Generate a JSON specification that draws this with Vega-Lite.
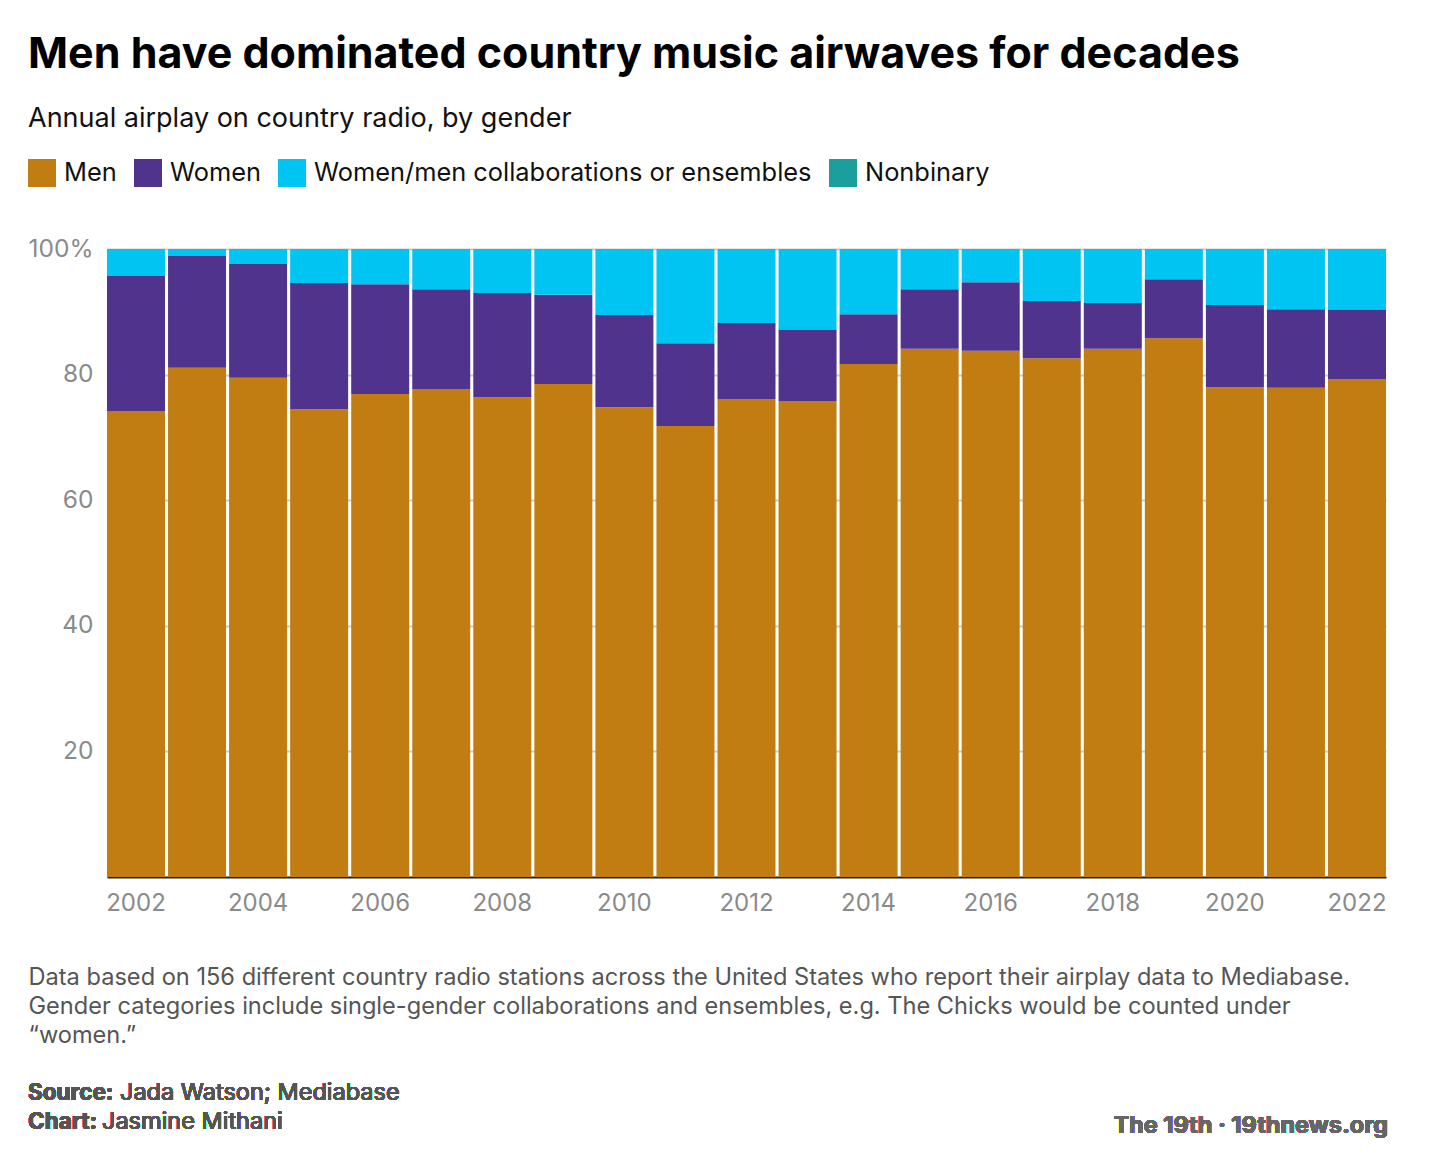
{
  "$schema": "https://vega.github.io/schema/vega-lite/v6.json",
  "width": 1279,
  "height": 628,
  "autosize": {"type": "none"},
  "padding": {"left": 107, "top": 249, "right": 54, "bottom": 291},
  "background": "white",
  "config": {
    "font": "Inter",
    "view": {"stroke": null}
  },
  "title": {
    "text": "Men have dominated country music airwaves for decades",
    "subtitle": "Annual airplay on country radio, by gender",
    "anchor": "start",
    "frame": "group",
    "dx": -79,
    "offset": 27,
    "baseline": "top",
    "fontSize": 43,
    "fontWeight": "bold",
    "color": "#000000",
    "subtitleFontSize": 27,
    "subtitleColor": "#111111",
    "subtitlePadding": 29,
    "font": "Inter",
    "subtitleFont": "Inter"
  },
  "data": {
    "values": [
      {"year": 2002, "gender": "Men", "share": 74.2},
      {"year": 2002, "gender": "Women", "share": 21.5},
      {"year": 2002, "gender": "Women/men collaborations or ensembles", "share": 4.3},
      {"year": 2003, "gender": "Men", "share": 81.1},
      {"year": 2003, "gender": "Women", "share": 17.8},
      {"year": 2003, "gender": "Women/men collaborations or ensembles", "share": 1.1},
      {"year": 2004, "gender": "Men", "share": 79.5},
      {"year": 2004, "gender": "Women", "share": 18.1},
      {"year": 2004, "gender": "Women/men collaborations or ensembles", "share": 2.4},
      {"year": 2005, "gender": "Men", "share": 74.5},
      {"year": 2005, "gender": "Women", "share": 20.1},
      {"year": 2005, "gender": "Women/men collaborations or ensembles", "share": 5.4},
      {"year": 2006, "gender": "Men", "share": 76.9},
      {"year": 2006, "gender": "Women", "share": 17.5},
      {"year": 2006, "gender": "Women/men collaborations or ensembles", "share": 5.6},
      {"year": 2007, "gender": "Men", "share": 77.7},
      {"year": 2007, "gender": "Women", "share": 15.9},
      {"year": 2007, "gender": "Women/men collaborations or ensembles", "share": 6.4},
      {"year": 2008, "gender": "Men", "share": 76.4},
      {"year": 2008, "gender": "Women", "share": 16.6},
      {"year": 2008, "gender": "Women/men collaborations or ensembles", "share": 7.0},
      {"year": 2009, "gender": "Men", "share": 78.5},
      {"year": 2009, "gender": "Women", "share": 14.2},
      {"year": 2009, "gender": "Women/men collaborations or ensembles", "share": 7.3},
      {"year": 2010, "gender": "Men", "share": 74.8},
      {"year": 2010, "gender": "Women", "share": 14.7},
      {"year": 2010, "gender": "Women/men collaborations or ensembles", "share": 10.5},
      {"year": 2011, "gender": "Men", "share": 71.8},
      {"year": 2011, "gender": "Women", "share": 13.2},
      {"year": 2011, "gender": "Women/men collaborations or ensembles", "share": 15.0},
      {"year": 2012, "gender": "Men", "share": 76.1},
      {"year": 2012, "gender": "Women", "share": 12.1},
      {"year": 2012, "gender": "Women/men collaborations or ensembles", "share": 11.8},
      {"year": 2013, "gender": "Men", "share": 75.8},
      {"year": 2013, "gender": "Women", "share": 11.3},
      {"year": 2013, "gender": "Women/men collaborations or ensembles", "share": 12.9},
      {"year": 2014, "gender": "Men", "share": 81.7},
      {"year": 2014, "gender": "Women", "share": 7.9},
      {"year": 2014, "gender": "Women/men collaborations or ensembles", "share": 10.4},
      {"year": 2015, "gender": "Men", "share": 84.1},
      {"year": 2015, "gender": "Women", "share": 9.5},
      {"year": 2015, "gender": "Women/men collaborations or ensembles", "share": 6.4},
      {"year": 2016, "gender": "Men", "share": 83.8},
      {"year": 2016, "gender": "Women", "share": 10.9},
      {"year": 2016, "gender": "Women/men collaborations or ensembles", "share": 5.3},
      {"year": 2017, "gender": "Men", "share": 82.6},
      {"year": 2017, "gender": "Women", "share": 9.1},
      {"year": 2017, "gender": "Women/men collaborations or ensembles", "share": 8.3},
      {"year": 2018, "gender": "Men", "share": 84.1},
      {"year": 2018, "gender": "Women", "share": 7.3},
      {"year": 2018, "gender": "Women/men collaborations or ensembles", "share": 8.6},
      {"year": 2019, "gender": "Men", "share": 85.8},
      {"year": 2019, "gender": "Women", "share": 9.4},
      {"year": 2019, "gender": "Women/men collaborations or ensembles", "share": 4.8},
      {"year": 2020, "gender": "Men", "share": 78.0},
      {"year": 2020, "gender": "Women", "share": 13.1},
      {"year": 2020, "gender": "Women/men collaborations or ensembles", "share": 8.9},
      {"year": 2021, "gender": "Men", "share": 77.9},
      {"year": 2021, "gender": "Women", "share": 12.5},
      {"year": 2021, "gender": "Women/men collaborations or ensembles", "share": 9.6},
      {"year": 2022, "gender": "Men", "share": 79.3},
      {"year": 2022, "gender": "Women", "share": 11.0},
      {"year": 2022, "gender": "Women/men collaborations or ensembles", "share": 9.7}
    ]
  },
  "layer": [
    {
      "mark": {"type": "bar", "stroke": null},
      "encoding": {
        "x": {
          "field": "year",
          "type": "ordinal",
          "scale": {"paddingInner": 0.05, "paddingOuter": 0},
          "axis": {
            "values": [2002, 2004, 2006, 2008, 2010, 2012, 2014, 2016, 2018, 2020, 2022],
            "labelAngle": 0,
            "labelFontSize": 24,
            "labelColor": "#8a8a8a",
            "labelPadding": 14,
            "labelFont": "Inter",
            "ticks": false,
            "domainColor": "#222222",
            "domainWidth": 2,
            "title": [
              "Data based on 156 different country radio stations across the United States who report their airplay data to Mediabase.",
              "Gender categories include single-gender collaborations and ensembles, e.g. The Chicks would be counted under",
              "“women.”"
            ],
            "titleAnchor": "start",
            "titleAlign": "left",
            "titleBaseline": "top",
            "titleX": -79,
            "titleY": 88,
            "titleFontSize": 23.6,
            "titleFontWeight": "normal",
            "titleColor": "#555555",
            "titleLineHeight": 29,
            "titleFont": "Inter"
          }
        },
        "y": {
          "field": "share",
          "type": "quantitative",
          "stack": "zero",
          "scale": {"domain": [0, 100], "nice": false},
          "axis": {
            "values": [20, 40, 60, 80, 100],
            "labelExpr": "datum.value == 100 ? '100%' : datum.label",
            "labelFontSize": 24.5,
            "labelColor": "#8a8a8a",
            "labelPadding": 14,
            "labelFont": "Inter",
            "ticks": false,
            "domain": false,
            "gridColor": "#cccccc",
            "gridWidth": 2,
            "title": null
          }
        },
        "order": {"field": "gender", "type": "nominal", "sort": "ascending"},
        "color": {
          "field": "gender",
          "type": "nominal",
          "scale": {
            "domain": ["Men", "Women", "Women/men collaborations or ensembles", "Nonbinary"],
            "range": ["#C17D11", "#50338C", "#00C5F2", "#1A9E9E"]
          },
          "legend": {
            "orient": "none",
            "direction": "horizontal",
            "legendX": -79,
            "legendY": -90,
            "title": null,
            "symbolType": "square",
            "symbolSize": 784,
            "symbolStrokeWidth": 0,
            "symbolOpacity": 1,
            "labelFontSize": 25.4,
            "labelColor": "#111111",
            "labelFont": "Inter",
            "labelOffset": 8,
            "columnPadding": 17,
            "labelLimit": 700
          }
        }
      }
    },
    {
      "mark": {"type": "text", "x": -79, "y": 844, "text": "Source:", "align": "left", "baseline": "middle", "fontSize": 22.5, "fontWeight": "bold", "color": "#555555", "font": "Inter"},
      "encoding": {}
    },
    {
      "mark": {"type": "text", "x": 13, "y": 844, "text": "Jada Watson; Mediabase", "align": "left", "baseline": "middle", "fontSize": 23.5, "color": "#555555", "font": "Inter"},
      "encoding": {}
    },
    {
      "mark": {"type": "text", "x": -79, "y": 873, "text": "Chart:", "align": "left", "baseline": "middle", "fontSize": 22.5, "fontWeight": "bold", "color": "#555555", "font": "Inter"},
      "encoding": {}
    },
    {
      "mark": {"type": "text", "x": -5, "y": 873, "text": "Jasmine Mithani", "align": "left", "baseline": "middle", "fontSize": 23.5, "color": "#555555", "font": "Inter"},
      "encoding": {}
    },
    {
      "mark": {"type": "text", "x": 1281, "y": 877, "text": "The 19th · 19thnews.org", "align": "right", "baseline": "middle", "fontSize": 23.5, "fontWeight": "bold", "color": "#666666", "font": "Inter"},
      "encoding": {}
    },
    {
      "mark": {"type": "rule", "x": 1128, "x2": 1281, "y": 891, "color": "#00C5F2", "strokeWidth": 2},
      "encoding": {}
    }
  ]
}
